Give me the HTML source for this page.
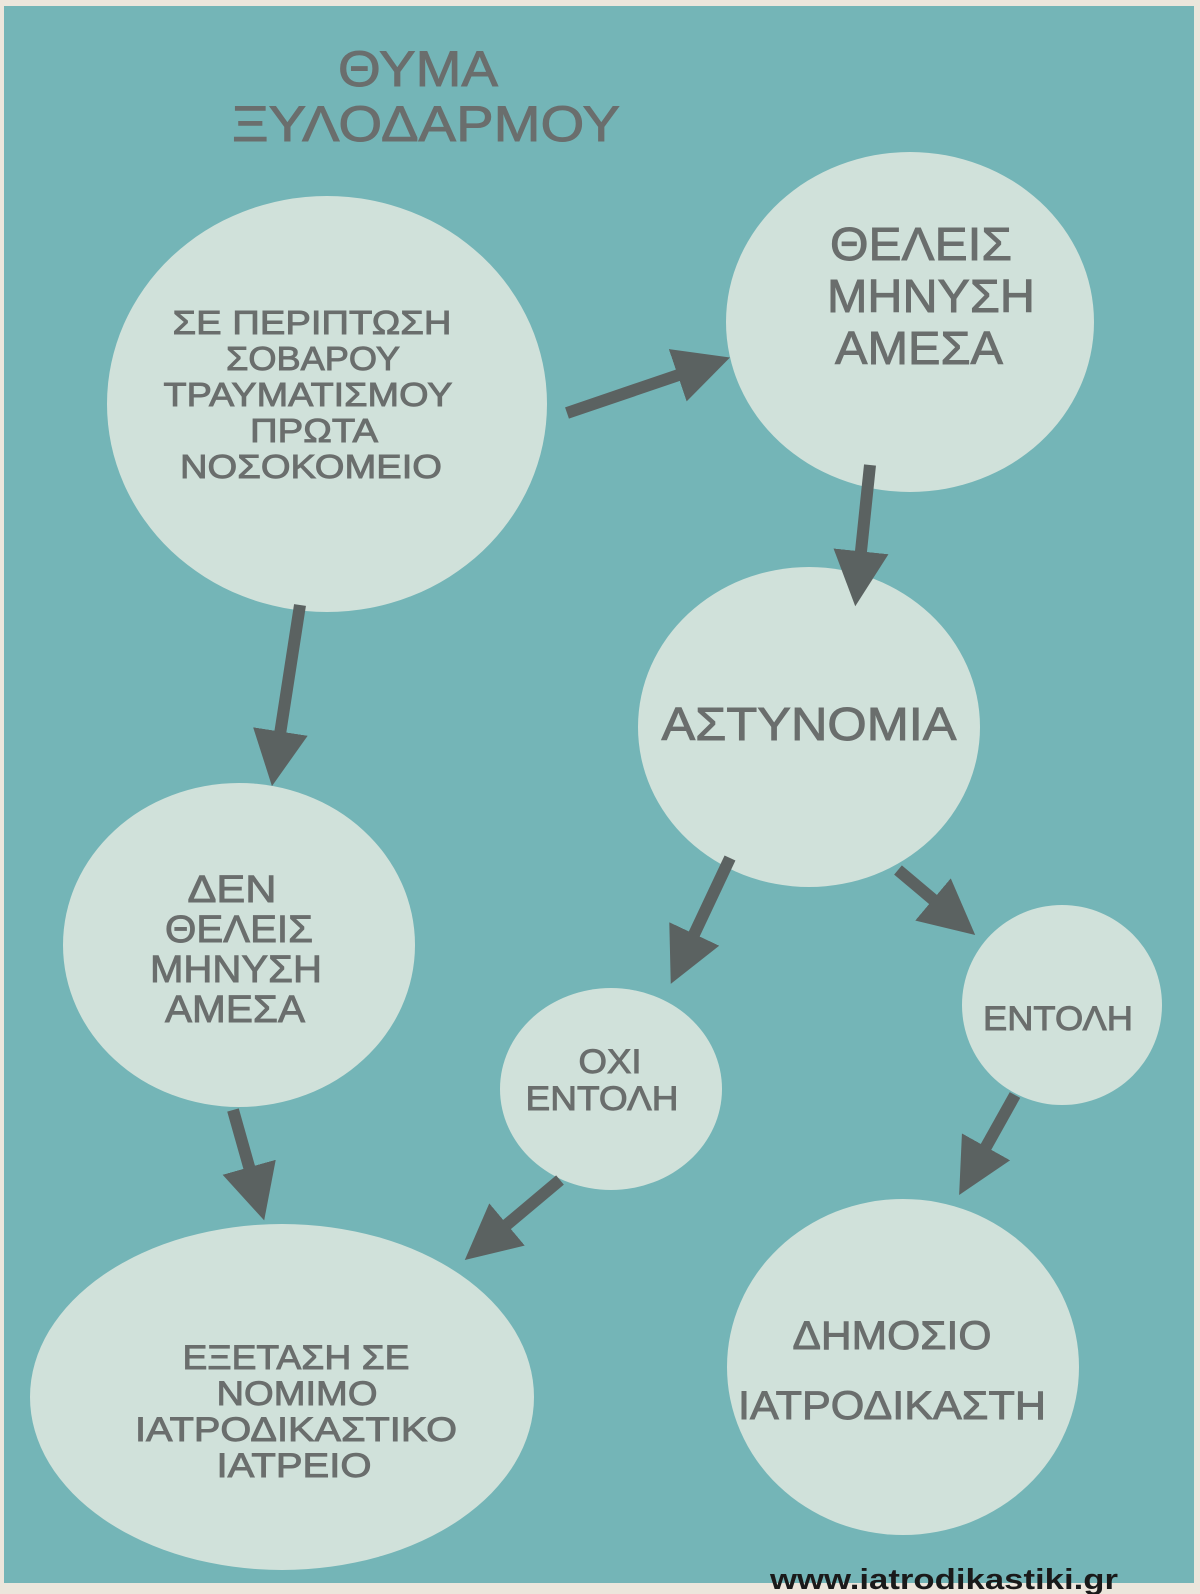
<!DOCTYPE html>
<html><head><meta charset="utf-8"><style>
html,body{margin:0;padding:0;background:#ece6dc;}
svg{display:block}
text{font-family:"Liberation Sans","DejaVu Sans",sans-serif;fill:#6a6e6d;text-anchor:middle;stroke:#6a6e6d;stroke-width:0.9}
</style></head><body>
<svg width="1200" height="1594" viewBox="0 0 1200 1594">
<defs>
<marker id="ah" markerWidth="4.6" markerHeight="4.6" refX="2.4" refY="2.3" orient="auto" markerUnits="strokeWidth">
<path d="M0,0 L4.6,2.3 L0,4.6 z" fill="#5b6261"/>
</marker>
</defs>
<rect x="0" y="0" width="1200" height="1594" fill="#ece6dc"/>
<rect x="4" y="6" width="1190" height="1577" fill="#74b5b7"/>
<g fill="#d0e1da">
<ellipse cx="327" cy="404" rx="220" ry="208"/>
<ellipse cx="910" cy="322" rx="184" ry="170"/>
<ellipse cx="809" cy="727" rx="171" ry="160"/>
<ellipse cx="239" cy="945" rx="176" ry="162"/>
<ellipse cx="611" cy="1089" rx="111" ry="101"/>
<ellipse cx="1062" cy="1005" rx="100" ry="100"/>
<ellipse cx="282" cy="1397" rx="252" ry="173"/>
<ellipse cx="903" cy="1367" rx="176" ry="168"/>
</g>
<g stroke="#5b6261" stroke-width="12" fill="none" marker-end="url(#ah)">
<line x1="567" y1="413" x2="705" y2="366"/>
<line x1="870" y1="465" x2="858" y2="580"/>
<line x1="300" y1="605" x2="276" y2="760"/>
<line x1="233" y1="1110" x2="257" y2="1195"/>
<line x1="730" y1="858" x2="682" y2="960"/>
<line x1="898" y1="870" x2="955" y2="918"/>
<line x1="1015" y1="1095" x2="972" y2="1172"/>
<line x1="560" y1="1180" x2="485" y2="1243"/>
</g>
<g lengthAdjust="spacingAndGlyphs">
<text x="418" y="86" font-size="50" textLength="160" lengthAdjust="spacingAndGlyphs">ΘΥΜΑ</text>
<text x="426" y="141" font-size="50" textLength="388" lengthAdjust="spacingAndGlyphs">ΞΥΛΟΔΑΡΜΟΥ</text>
<text x="312" y="334" font-size="33" textLength="279" lengthAdjust="spacingAndGlyphs">ΣΕ ΠΕΡΙΠΤΩΣΗ</text>
<text x="313" y="370" font-size="33" textLength="174" lengthAdjust="spacingAndGlyphs">ΣΟΒΑΡΟΥ</text>
<text x="308" y="406" font-size="33" textLength="289" lengthAdjust="spacingAndGlyphs">ΤΡΑΥΜΑΤΙΣΜΟΥ</text>
<text x="314" y="442" font-size="33" textLength="128" lengthAdjust="spacingAndGlyphs">ΠΡΩΤΑ</text>
<text x="311" y="478" font-size="33" textLength="262" lengthAdjust="spacingAndGlyphs">ΝΟΣΟΚΟΜΕΙΟ</text>
<text x="921" y="260" font-size="46" textLength="182" lengthAdjust="spacingAndGlyphs">ΘΕΛΕΙΣ</text>
<text x="931" y="312" font-size="46" textLength="208" lengthAdjust="spacingAndGlyphs">ΜΗΝΥΣΗ</text>
<text x="919" y="364" font-size="46" textLength="168" lengthAdjust="spacingAndGlyphs">ΑΜΕΣΑ</text>
<text x="809" y="740" font-size="46" textLength="295" lengthAdjust="spacingAndGlyphs">ΑΣΤΥΝΟΜΙΑ</text>
<text x="232" y="902" font-size="38" textLength="89" lengthAdjust="spacingAndGlyphs">ΔΕΝ</text>
<text x="239" y="942" font-size="38" textLength="148" lengthAdjust="spacingAndGlyphs">ΘΕΛΕΙΣ</text>
<text x="236" y="982" font-size="38" textLength="172" lengthAdjust="spacingAndGlyphs">ΜΗΝΥΣΗ</text>
<text x="235" y="1022" font-size="38" textLength="140" lengthAdjust="spacingAndGlyphs">ΑΜΕΣΑ</text>
<text x="610" y="1073" font-size="34" textLength="63" lengthAdjust="spacingAndGlyphs">ΟΧΙ</text>
<text x="602" y="1110" font-size="34" textLength="153" lengthAdjust="spacingAndGlyphs">ΕΝΤΟΛΗ</text>
<text x="1058" y="1030" font-size="34" textLength="150" lengthAdjust="spacingAndGlyphs">ΕΝΤΟΛΗ</text>
<text x="296" y="1369" font-size="34" textLength="227" lengthAdjust="spacingAndGlyphs">ΕΞΕΤΑΣΗ ΣΕ</text>
<text x="297" y="1405" font-size="34" textLength="161" lengthAdjust="spacingAndGlyphs">ΝΟΜΙΜΟ</text>
<text x="296" y="1441" font-size="34" textLength="322" lengthAdjust="spacingAndGlyphs">ΙΑΤΡΟΔΙΚΑΣΤΙΚΟ</text>
<text x="294" y="1477" font-size="34" textLength="155" lengthAdjust="spacingAndGlyphs">ΙΑΤΡΕΙΟ</text>
<text x="892" y="1349" font-size="40" textLength="199" lengthAdjust="spacingAndGlyphs">ΔΗΜΟΣΙΟ</text>
<text x="892" y="1419" font-size="40" textLength="308" lengthAdjust="spacingAndGlyphs">ΙΑΤΡΟΔΙΚΑΣΤΗ</text>
</g>
<text x="944" y="1589" font-size="29" font-weight="bold" textLength="348" lengthAdjust="spacingAndGlyphs" style="fill:#1a1a1a;stroke:none">www.iatrodikastiki.gr</text>
</svg>
</body></html>
